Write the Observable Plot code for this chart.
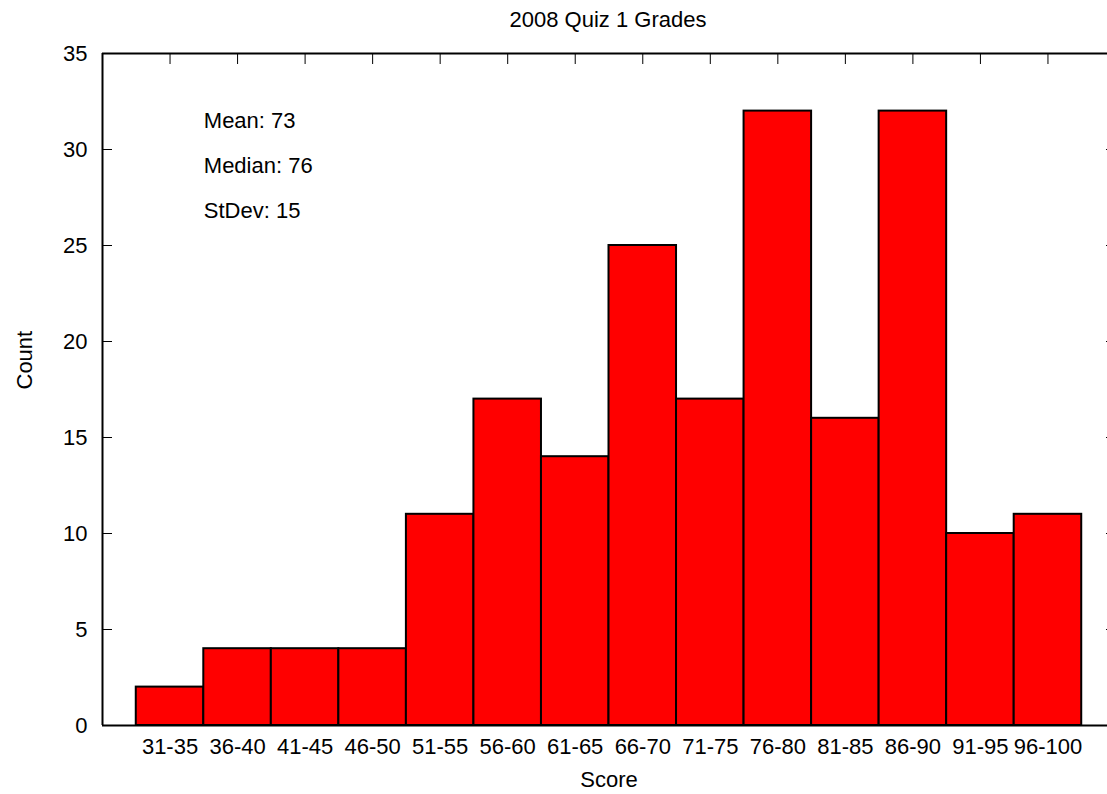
<!DOCTYPE html>
<html><head><meta charset="utf-8">
<script src="https://cdn.jsdelivr.net/npm/d3@7"></script>
<script src="https://cdn.jsdelivr.net/npm/@observablehq/plot@0.6"></script>
<style>
html,body{margin:0;padding:0;background:#fff;overflow:hidden;}
#wrap{position:relative;width:1107px;height:794px;overflow:hidden;font-family:"Liberation Sans",Arial,sans-serif;background:#fff;}
#title{position:absolute;left:608px;top:0;height:40px;line-height:40px;transform:translateX(-50%);font-size:22px;white-space:nowrap;color:#000;}
#chart{position:absolute;left:0;top:40px;width:1115px;}
#chart svg{max-width:none !important;width:1115px;height:754px;}
</style></head>
<body><div id="wrap"><div id="title">2008 Quiz 1 Grades</div><div id="chart"></div></div>
<script>
const categories = ["31-35","36-40","41-45","46-50","51-55","56-60","61-65","66-70","71-75","76-80","81-85","86-90","91-95","96-100"];
const counts = [2,4,4,4,11,17,14,25,17,32,16,32,10,11];
const yTicks = [0,5,10,15,20,25,30,35];
const statLabels = ["Mean: 73","Median: 76","StDev: 15"];
const statY = [31.5, 29.15, 26.8];
const statX = 0.5;

const idx = categories.map((c, i) => i);
const rows = categories.map((c, i) => ({i, cat: c, count: counts[i]}));

const plot = Plot.plot({
  width: 1115, height: 754,
  marginLeft: 102, marginRight: 0, marginTop: 13, marginBottom: 69,
  x: {type: "linear", domain: [-1, 14]},
  y: {domain: [0, 35]},
  style: {fontFamily: '"Liberation Sans", Arial, sans-serif', fontSize: "22px", color: "black", background: "white", overflow: "visible", maxWidth: "none"},
  marks: [
    Plot.rect(rows, {x1: d => d.i - 0.5, x2: d => d.i + 0.5, y1: 0, y2: "count", fill: "#ff0000", stroke: "black", strokeWidth: 2}),
    Plot.ruleY([0, 35], {strokeWidth: 2}),
    Plot.ruleX([-1, 14], {strokeWidth: 2}),
    Plot.axisY({ticks: yTicks, tickSize: 0, tickPadding: 15, label: null, tickFormat: d => String(d)}),
    Plot.axisY({ticks: yTicks, tickSize: -10, tickFormat: () => "", label: null}),
    Plot.axisY({anchor: "right", ticks: yTicks, tickSize: -10, tickFormat: () => "", label: null}),
    Plot.axisX({anchor: "top", ticks: idx, tickSize: -10, tickFormat: () => "", label: null}),
    Plot.axisX({anchor: "bottom", ticks: idx, tickSize: 0, tickPadding: 13, tickFormat: i => categories[i], label: null}),
    Plot.text(statLabels, {x: statX, y: (d, i) => statY[i], text: d => d, textAnchor: "start", lineAnchor: "middle"}),
    Plot.text(["Score"], {frameAnchor: "bottom", dy: 54, text: d => d, lineAnchor: "middle"}),
    Plot.text(["Count"], {frameAnchor: "left", dx: -78, rotate: -90, text: d => d, lineAnchor: "middle"})
  ]
});
document.getElementById("chart").appendChild(plot);
</script>
</body></html>
